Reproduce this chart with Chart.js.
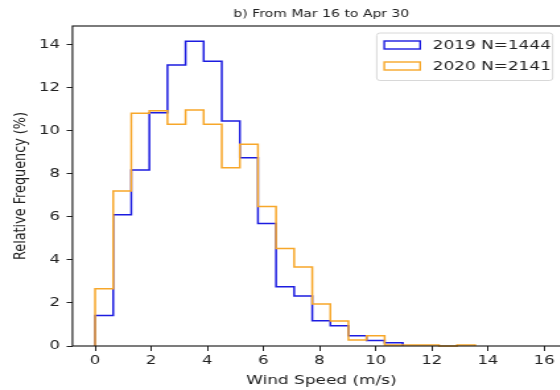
<!DOCTYPE html>
<html>
<head>
<meta charset="utf-8">
<script src="https://cdn.jsdelivr.net/npm/chart.js@4"></script>
<style>
  html, body { margin: 0; padding: 0; background: #fff; overflow: hidden; }
  #wrap { width: 560px; height: 390px; overflow: hidden; }
  /* the reference figure is stretched sideways, so the canvas is too */
  #box { width: 440px; height: 390px; transform: scaleX(1.32); transform-origin: 0 0; }
</style>
</head>
<body>
<div id="wrap"><div id="box"><canvas id="histChart" width="440" height="390"></canvas></div></div>
<script>
// bin edges of the histogram (m/s)
var binEdges = [0, 0.645, 1.29, 1.935, 2.58, 3.225, 3.87, 4.515, 5.16, 5.805, 6.45,
    7.095, 7.74, 8.385, 9.03, 9.675, 10.32, 10.965, 11.61, 12.255, 12.9, 13.545];

// relative frequency (%) per bin
var freq2019 = [1.41, 6.09, 8.17, 10.83, 13.04, 14.14, 13.21, 10.44, 8.74, 5.68,
    2.75, 2.32, 1.17, 0.94, 0.48, 0.25, 0.15];
var freq2020 = [2.66, 7.19, 10.80, 10.92, 10.29, 10.95, 10.29, 8.27, 9.36, 6.47,
    4.53, 3.67, 1.95, 1.16, 0.28, 0.48, 0.05, 0.05, 0.05, 0, 0.05];

var seriesLabels = ['2019 N=1444', '2020 N=2141'];
var seriesColors = ['#1c1ce0', '#f7a72a'];
var titleText = 'b) From Mar 16 to Apr 30';

var FONT = '"DejaVu Sans", sans-serif';

// outline of a step histogram: up at the first edge, down at the last
function stepPoints(freq) {
    var pts = [{ x: binEdges[0], y: 0 }];
    freq.forEach(function (f, i) {
        pts.push({ x: binEdges[i], y: f });
    });
    pts.push({ x: binEdges[freq.length], y: 0 });
    return pts;
}

// frame drawn over the bars, like matplotlib spines
var framePlugin = {
    id: 'frame',
    afterDatasetsDraw: function (chart) {
        var a = chart.chartArea, ctx = chart.ctx;
        ctx.save();
        ctx.strokeStyle = '#111';
        ctx.lineWidth = 1.1;
        ctx.strokeRect(a.left, a.top, a.right - a.left, a.bottom - a.top);
        ctx.restore();
    }
};

var titleLegendPlugin = {
    id: 'titleLegend',
    afterDraw: function (chart) {
        var a = chart.chartArea, ctx = chart.ctx;
        ctx.save();
        ctx.fillStyle = '#222';
        ctx.font = '10.6px ' + FONT;
        ctx.textAlign = 'center';
        ctx.textBaseline = 'middle';
        ctx.fillText(titleText, (a.left + a.right) / 2, 14);

        // legend box
        var bx = 285.4, by = 33, bw = 133.3, bh = 47.5;
        ctx.beginPath();
        ctx.roundRect(bx, by, bw, bh, 2.5);
        ctx.fillStyle = 'rgba(255,255,255,0.85)';
        ctx.fill();
        ctx.strokeStyle = '#d4d4d4';
        ctx.lineWidth = 0.9;
        ctx.stroke();

        var rows = [45, 66];
        ctx.font = '12.8px ' + FONT;
        ctx.textAlign = 'left';
        for (var i = 0; i < seriesLabels.length; i++) {
            ctx.strokeStyle = seriesColors[i];
            ctx.lineWidth = 1.4;
            ctx.strokeRect(291.1, rows[i] - 4, 27.2, 8);
            ctx.fillStyle = '#222';
            ctx.fillText(seriesLabels[i], 327.8, rows[i] + 0.5);
        }
        ctx.restore();
    }
};

var ctx = document.getElementById('histChart').getContext('2d');
var histChart = new Chart(ctx, {
    type: 'line',
    data: {
        datasets: [{
            label: seriesLabels[0],
            data: stepPoints(freq2019),
            borderColor: seriesColors[0],
            order: 1
        }, {
            label: seriesLabels[1],
            data: stepPoints(freq2020),
            borderColor: seriesColors[1],
            order: 0
        }]
    },
    plugins: [framePlugin, titleLegendPlugin],
    options: {
        responsive: false,
        animation: false,
        layout: { padding: { top: 26, right: 8, left: 0, bottom: 0 } },
        elements: {
            line: { stepped: true, borderWidth: 1.5, fill: false, tension: 0, borderJoinStyle: 'miter' },
            point: { radius: 0, hoverRadius: 0 }
        },
        datasets: { line: { clip: false } },
        plugins: {
            legend: { display: false },
            tooltip: { enabled: false }
        },
        scales: {
            x: {
                type: 'linear',
                min: -0.806,
                max: 16.935,
                afterFit: function (scale) { scale.height = 44; },
                ticks: {
                    stepSize: 2,
                    includeBounds: false,
                    color: '#222',
                    padding: 2,
                    maxRotation: 0,
                    font: { family: FONT, size: 12.5 }
                },
                grid: { drawOnChartArea: false, tickLength: 5, color: '#222', tickWidth: 1 },
                border: { display: false },
                title: {
                    display: true,
                    text: 'Wind Speed (m/s)',
                    color: '#222',
                    font: { family: FONT, size: 12.8 },
                    padding: { top: 0, bottom: 1.3 }
                }
            },
            y: {
                min: 0,
                max: 14.85,
                afterFit: function (scale) { scale.width = 54.9; },
                ticks: {
                    stepSize: 2,
                    includeBounds: false,
                    color: '#222',
                    padding: 5,
                    font: { family: FONT, size: 12.5 }
                },
                grid: { drawOnChartArea: false, tickLength: 4.4, color: '#222', tickWidth: 1 },
                border: { display: false },
                title: {
                    display: true,
                    text: 'Relative Frequency (%)',
                    color: '#222',
                    font: { family: FONT, size: 12.8 },
                    padding: { top: 7.5, bottom: 0 }
                }
            }
        }
    }
});
</script>
</body>
</html>
